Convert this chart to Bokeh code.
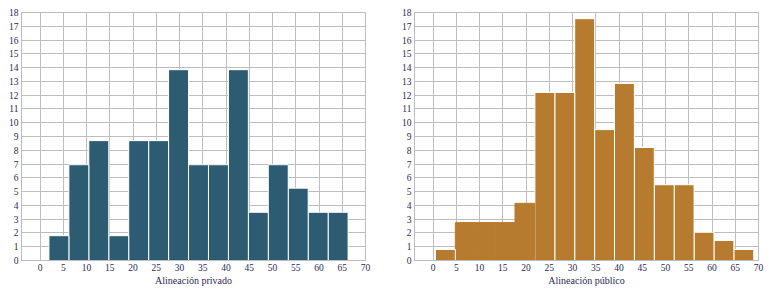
from bokeh.plotting import figure
from bokeh.layouts import row
from bokeh.models import FixedTicker, ColumnDataSource
from bokeh.embed import file_html
from bokeh.resources import INLINE

# ---- data ----
x_ticks = [0, 5, 10, 15, 20, 25, 30, 35, 40, 45, 50, 55, 60, 65, 70]
y_ticks = list(range(0, 19))

privado_start = 1.9
privado_width = 4.29
privado_values = [1.8, 6.95, 8.7, 1.8, 8.7, 8.7, 13.85, 6.95, 6.95, 13.85, 3.5, 6.95, 5.25, 3.5, 3.5]

publico_start = 0.5
publico_width = 4.28
publico_values = [0.8, 2.75, 2.75, 2.75, 4.15, 12.2, 12.2, 17.55, 9.5, 12.85, 8.2, 5.5, 5.5, 2.05, 1.45, 0.8]

labels = ["Alineación privado", "Alineación público"]
colors = ["#2c5b72", "#b77b2f"]

FONT = "Liberation Serif"
TXT = "#2a2a52"
GRID = "#bdbdbd"


def make(values, start, width, label, color, bl, br, joined=()):
    p = figure(width=385, height=291, x_range=(-4, 70), y_range=(0, 18),
               output_backend="svg", toolbar_location=None,
               min_border_left=bl, min_border_right=br,
               min_border_top=12, min_border_bottom=31)
    n = len(values)
    left = [start + width * i for i in range(n)]
    right = [l + width for l in left]
    lc = [color if i in joined else "white" for i in range(n)]
    # drawn from last to first so that joined bars hide the separator
    order = list(range(n))[::-1]
    src = ColumnDataSource(dict(left=[left[i] for i in order],
                                right=[right[i] for i in order],
                                top=[values[i] for i in order],
                                bottom=[0] * n,
                                lc=[lc[i] for i in order]))
    p.quad(left="left", right="right", top="top", bottom="bottom", source=src,
           fill_color=color, line_color="lc", line_width=1)

    p.xaxis.ticker = FixedTicker(ticks=x_ticks)
    p.yaxis.ticker = FixedTicker(ticks=y_ticks)
    for ax in (p.xaxis[0], p.yaxis[0]):
        ax.major_tick_line_color = None
        ax.minor_tick_line_color = None
        ax.major_tick_out = 0
        ax.major_tick_in = 0
        ax.major_label_text_font = FONT
        ax.major_label_text_font_size = "9.5px"
        ax.major_label_text_color = TXT
        ax.axis_line_color = GRID
        ax.axis_line_width = 1
    p.yaxis.major_label_standoff = 3
    p.xaxis.major_label_standoff = 3
    p.xaxis.axis_label = label
    p.xaxis.axis_label_text_font = FONT
    p.xaxis.axis_label_text_font_style = "normal"
    p.xaxis.axis_label_text_font_size = "10px"
    p.xaxis.axis_label_text_color = TXT
    p.xaxis.axis_label_standoff = 1

    p.xgrid.ticker = FixedTicker(ticks=x_ticks)
    p.ygrid.ticker = FixedTicker(ticks=y_ticks)
    p.grid.grid_line_color = GRID
    p.grid.grid_line_width = 1
    p.grid.level = "underlay"
    p.outline_line_color = GRID
    p.outline_line_width = 1
    p.background_fill_color = "white"
    p.border_fill_color = "white"
    return p


p1 = make(privado_values, privado_start, privado_width, labels[0], colors[0], 21, 20)
p2 = make(publico_values, publico_start, publico_width, labels[1], colors[1], 29, 12,
          joined=(1, 2, 3, 4))

layout = row(p1, p2)
open("out.html", "w").write(file_html(layout, INLINE))
